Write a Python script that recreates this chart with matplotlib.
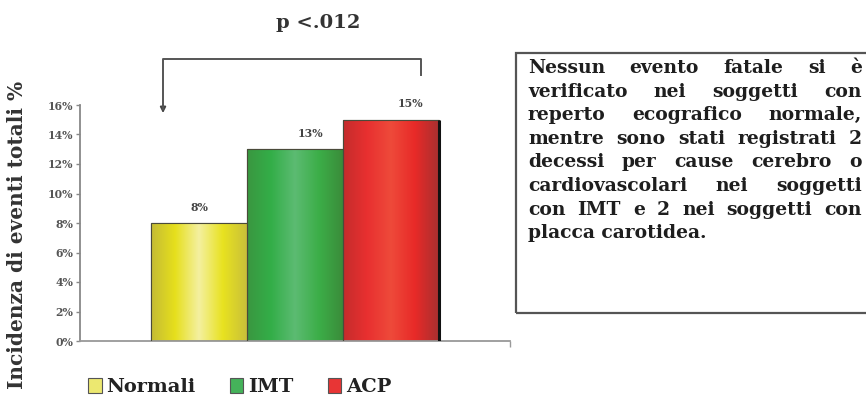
import numpy as np
import matplotlib
matplotlib.use("Agg")
import matplotlib.pyplot as plt
from matplotlib.colors import LinearSegmentedColormap
from matplotlib.patches import Rectangle

plt.rcParams['font.family'] = ['DejaVu Serif']
plt.rcParams['font.weight'] = 'bold'

# data
groups = ['Normali', 'IMT', 'ACP']
incidence = [0.08, 0.13, 0.15]
bar_labels = ['8%', '13%', '15%']
yticks = [0.0, 0.02, 0.04, 0.06, 0.08, 0.10, 0.12, 0.14, 0.16]
ytick_labels = ['0%', '2%', '4%', '6%', '8%', '10%', '12%', '14%', '16%']
p_text = 'p <.012'
ylabel = 'Incidenza di eventi totali %'
note_lines = [
    'Nessun evento fatale si è',
    'verificato nei soggetti con',
    'reperto ecografico normale,',
    'mentre sono stati registrati 2',
    'decessi per cause cerebro o',
    'cardiovascolari nei soggetti',
    'con IMT e 2 nei soggetti con',
    'placca carotidea.',
]

# shading across each bar (left edge -> right edge)
shades = [
    ['#c4bb35', '#e6df1c', '#f4f0a0', '#e8e220', '#c9c03a'],
    ['#3a9640', '#33ae48', '#5cbb72', '#3cae48', '#3a8c3a'],
    ['#c42c2c', '#e83030', '#ee4a3a', '#e82a28', '#a83030'],
]
base_colors = ['#e6df1c', '#33ae48', '#e83030']

W, H = 866, 398
fig = plt.figure(figsize=(W / 100, H / 100), dpi=100)

def px(x, y):
    return x / W, 1 - y / H

ax = fig.add_axes([80 / W, 57 / H, 430 / W, 236 / H])
xpos = np.arange(len(groups))
bars = ax.bar(xpos, incidence, width=1.0, color=base_colors,
              edgecolor='#4a4a3a', linewidth=0.8, zorder=2)

for bar, cols in zip(bars, shades):
    cmap = LinearSegmentedColormap.from_list('shade', cols)
    grad = np.linspace(0, 1, 256).reshape(1, -1)
    x0, w, h = bar.get_x(), bar.get_width(), bar.get_height()
    im = ax.imshow(grad, cmap=cmap, aspect='auto', extent=(x0, x0 + w, 0, h),
                   zorder=2.5)
    im.set_clip_path(bar)
    ax.add_patch(Rectangle((x0, 0), w, h, fill=False, edgecolor='#4a4a3a',
                           linewidth=0.8, zorder=3))

# dark edge on the last bar
last = bars[-1]
ax.plot([last.get_x() + last.get_width()] * 2, [0, last.get_height()],
        color='#111111', lw=2.2, zorder=4, solid_capstyle='butt')

ax.set_xlim(-1.24, 3.24)
ax.set_ylim(0, 0.16)
ax.set_yticks(yticks)
ax.set_yticklabels(ytick_labels, fontsize=7.8, color='#555555')
ax.set_xticks([3.24])
ax.set_xticklabels([''])
ax.tick_params(axis='y', direction='out', length=3, width=1, color='#888888', pad=2)
ax.tick_params(axis='x', direction='out', length=4, width=1, color='#999999')
for s in ['top', 'right']:
    ax.spines[s].set_visible(False)
ax.spines['left'].set_color('#888888')
ax.spines['left'].set_linewidth(1.3)
ax.spines['bottom'].set_color('#999999')
ax.spines['bottom'].set_linewidth(1.3)

label_dx = [0, 11, 14]
for bar, txt, dx in zip(bars, bar_labels, label_dx):
    ax.annotate(txt, (bar.get_x() + bar.get_width() / 2, bar.get_height()),
                xytext=(dx, 11.5), textcoords='offset points',
                ha='center', va='center', fontsize=7.8, color='#444444')

# significance bracket
bx0, bx1, btop = -0.375, 2.31, 0.191
ax.plot([bx0, bx0, bx1, bx1], [0.157, btop, btop, 0.1803], color='#555555',
        lw=1.4, clip_on=False, zorder=5)
ax.annotate('', xy=(bx0, 0.1545), xytext=(bx0, 0.160),
            arrowprops=dict(arrowstyle='-|>', color='#444444', lw=1.4,
                            mutation_scale=8, shrinkA=0, shrinkB=0),
            annotation_clip=False)

fig.text(*px(318, 23), p_text, ha='center', va='center', fontsize=14,
         color='#333333')
fig.text(*px(17, 235), ylabel, rotation=90, ha='center', va='center',
         fontsize=14.5, color='#333333')

# legend
handles = [Rectangle((0, 0), 1, 1, facecolor=c, edgecolor='#555555', lw=0.8)
           for c in ['#ece870', '#45b25a', '#e83535']]
fig.legend(handles, groups, loc='center left', bbox_to_anchor=px(88, 387),
           ncol=3, frameon=False, fontsize=14, handlelength=0.7,
           handleheight=0.8, handletextpad=0.25, columnspacing=1.75,
           borderaxespad=0, borderpad=0, labelcolor='#222222')

# note box
fig.patches.append(Rectangle(px(516, 313), 360 / W, 260 / H, transform=fig.transFigure,
                             fill=False, edgecolor='#555555', linewidth=1.6))

renderer = fig.canvas.get_renderer()
x_left, x_right = 528, 862
note_size = 13.5
for i, line in enumerate(note_lines):
    yb = 1 - (73 + 23.6 * i) / H
    words = line.split()
    last_line = i == len(note_lines) - 1
    if last_line or len(words) == 1:
        fig.text(x_left / W, yb, line, ha='left', va='baseline',
                 fontsize=note_size, color='#1e1e1e')
        continue
    objs = [fig.text(0, yb, w, ha='left', va='baseline', fontsize=note_size,
                     color='#1e1e1e') for w in words]
    widths = [o.get_window_extent(renderer).width for o in objs]
    gap = (x_right - x_left - sum(widths)) / (len(words) - 1)
    x = x_left
    for o, wd in zip(objs, widths):
        o.set_x(x / W)
        x += wd + gap

fig.savefig('out.png', dpi=100)
